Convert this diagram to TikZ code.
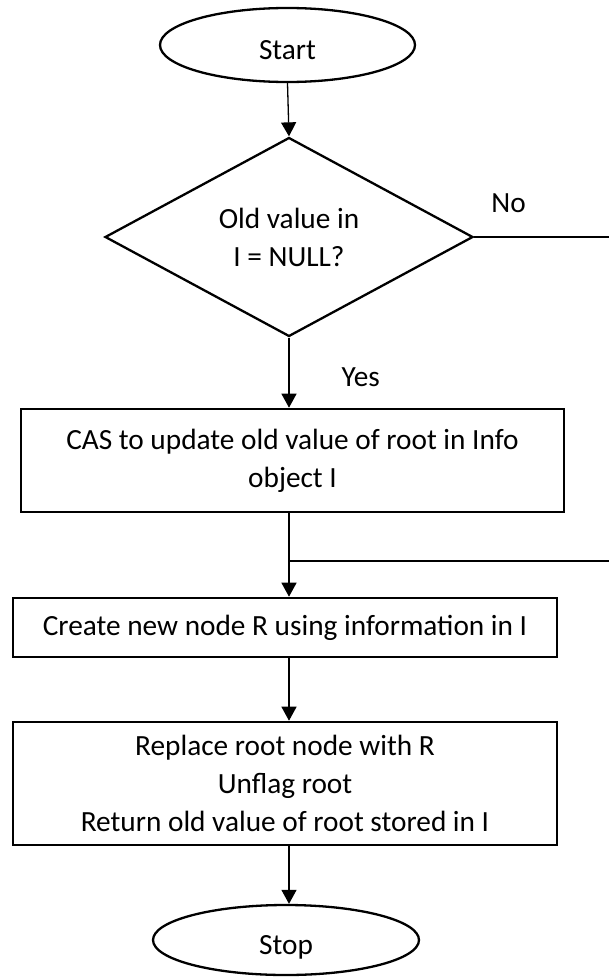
\documentclass[tikz,border=0pt]{standalone}
\usepackage{fontspec}
\setmainfont{Carlito}
\usepackage{tikz}
\usetikzlibrary{shapes.geometric,arrows.meta}
\def\termnode{\node[ellipse,draw,line width=2.3pt,minimum width=255pt,minimum height=74pt,text height=28pt,text depth=0pt]}
\def\decnode{\node[diamond,draw,line width=2.3pt,align=center,inner sep=0pt,minimum width=368pt,minimum height=180pt]}
\def\boxnode{\node[rectangle,draw,line width=2.6pt,align=center,minimum width=544pt]}

\begin{document}
\begin{tikzpicture}[x=1pt,y=-1pt,font=\fontsize{29.3pt}{38pt}\selectfont,
  >={Triangle[width=15pt,length=14pt]},line width=1.3pt]
\useasboundingbox (0,0) rectangle (608,977);
\termnode (start) at (287.5,45) {Start};
\decnode (dec) at (289,237) {Old value in\\I = NULL?};
\boxnode (cas) at (292.5,460.5) [minimum width=543pt,minimum height=103pt] {CAS to update old value of root in Info\\object I};
\boxnode (create) at (285,627.5) [minimum height=59pt] {Create new node R using information in I};
\boxnode (replace) at (285,783.5) [minimum height=123pt] {Replace root node with R\\Unflag root\\Return old value of root stored in I};
\termnode (stop) at (286,940) [minimum width=266pt,minimum height=70pt] {Stop};
\coordinate (join) at (289,561);
\draw[->] (start.south) -- (dec.north);
\draw[->] (dec.south) -- node[pos=0.57,right=52pt,inner sep=0pt] {Yes} (dec.south |- cas.north);
\draw (dec.east) -- node[pos=0.23,above=24pt,inner sep=0pt] {No} ++(150,0) |- (join);
\draw[->] (cas.south -| dec.south) -- (create.north -| dec.south);
\draw[->] (create.south -| dec.south) -- (replace.north -| dec.south);
\draw[->] (replace.south -| dec.south) -- (stop.north -| dec.south);
\end{tikzpicture}
\end{document}
